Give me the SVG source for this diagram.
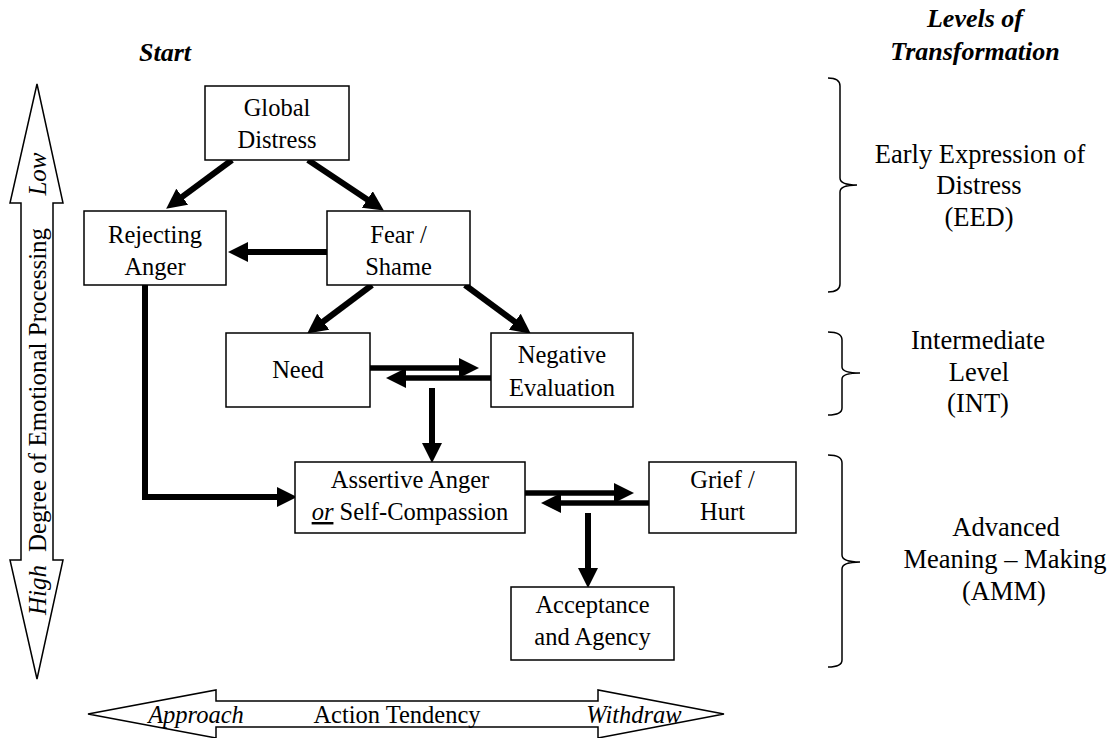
<svg xmlns="http://www.w3.org/2000/svg" width="1115" height="738" viewBox="0 0 1115 738">
<style>
text{font-family:"Liberation Serif","Times New Roman",serif;fill:#000}
.bx{font-size:24.5px;text-anchor:middle}
.lv{font-size:26.5px;text-anchor:middle}
.ttl{font-size:26px;font-weight:bold;font-style:italic;text-anchor:middle}
.ax{font-size:25px;text-anchor:middle}
.it{font-style:italic}
.node rect{fill:#fff;stroke:#000;stroke-width:1.5}
.conn{fill:none;stroke:#000;stroke-width:6;marker-end:url(#ah)}
.conn2{fill:none;stroke:#000;stroke-width:5.5;marker-end:url(#ah)}
.brace{fill:none;stroke:#000;stroke-width:1.5}
.bigarrow{fill:#fff;stroke:#000;stroke-width:1.5;stroke-linejoin:miter}
</style>
<defs>
<marker id="ah" markerUnits="userSpaceOnUse" markerWidth="20" markerHeight="20" viewBox="0 0 20 20" refX="9" refY="10" orient="auto">
<path d="M0,0 L20,10 L0,20 z" fill="#000"/>
</marker>
</defs>
<rect width="1115" height="738" fill="#fff"/>

<text class="ttl" x="165" y="61">Start</text>
<text class="ttl" x="975" y="27">Levels of</text>
<text class="ttl" x="975" y="60">Transformation</text>

<g id="axis-processing">
<polygon class="bigarrow" points="37,84 63,203 53,203 53,560 63,560 37,679 10,560 21,560 21,203 10,203"/>
<text class="ax it" transform="translate(46,174) rotate(-90)">Low</text>
<text class="ax" transform="translate(46,390) rotate(-90)">Degree of Emotional Processing</text>
<text class="ax it" transform="translate(46,590) rotate(-90)">High</text>
</g>

<g id="axis-action">
<polygon class="bigarrow" points="88,714 216,690 216,701 598,701 598,690 724,714 598,738 598,727 216,727 216,738"/>
<text class="bx it" x="196" y="723">Approach</text>
<text class="bx" x="397" y="723">Action Tendency</text>
<text class="bx it" x="634" y="723">Withdraw</text>
</g>

<g id="connectors">
<line class="conn" x1="232" y1="160" x2="175" y2="202.1"/>
<line class="conn" x1="308" y1="160" x2="374.7" y2="204.5"/>
<line class="conn" x1="327" y1="252" x2="239" y2="252"/>
<line class="conn" x1="372" y1="285" x2="316" y2="327"/>
<line class="conn" x1="465" y1="285" x2="522" y2="327.1"/>
<line class="conn2" x1="370" y1="368" x2="468" y2="368"/>
<line class="conn2" x1="491" y1="378" x2="397" y2="378"/>
<line class="conn" x1="432" y1="388" x2="432" y2="452"/>
<path class="conn" d="M145,285 V497 H286"/>
<line class="conn2" x1="525" y1="493" x2="623" y2="493"/>
<line class="conn2" x1="649" y1="503" x2="552" y2="503"/>
<line class="conn" x1="588" y1="513" x2="588" y2="577"/>
</g>

<g id="global-distress" class="node">
<rect x="205" y="86" width="144" height="74"/>
<text class="bx" x="277" y="116">Global</text>
<text class="bx" x="277" y="148">Distress</text>
</g>
<g id="rejecting-anger" class="node">
<rect x="84" y="211" width="142" height="74"/>
<text class="bx" x="155" y="243">Rejecting</text>
<text class="bx" x="155" y="275">Anger</text>
</g>
<g id="fear-shame" class="node">
<rect x="327" y="211" width="143" height="74"/>
<text class="bx" x="398.5" y="243">Fear /</text>
<text class="bx" x="398.5" y="275">Shame</text>
</g>
<g id="need" class="node">
<rect x="226" y="333" width="144" height="74"/>
<text class="bx" x="298" y="378">Need</text>
</g>
<g id="negative-evaluation" class="node">
<rect x="491" y="333" width="142" height="74"/>
<text class="bx" x="562" y="363">Negative</text>
<text class="bx" x="562" y="396">Evaluation</text>
</g>
<g id="assertive-anger" class="node">
<rect x="295" y="462" width="230" height="71"/>
<text class="bx" x="410" y="488">Assertive Anger</text>
<text class="bx" x="410" y="520"><tspan class="it" text-decoration="underline">or</tspan> Self-Compassion</text>
</g>
<g id="grief-hurt" class="node">
<rect x="649" y="462" width="147" height="71"/>
<text class="bx" x="722.5" y="488">Grief /</text>
<text class="bx" x="722.5" y="520">Hurt</text>
</g>
<g id="acceptance-agency" class="node">
<rect x="511" y="587" width="163" height="73"/>
<text class="bx" x="592.5" y="613">Acceptance</text>
<text class="bx" x="592.5" y="645">and Agency</text>
</g>

<g id="level-eed">
<path class="brace" d="M828,78 C836,78 840,80 840,86 V178 C840,183 846,185 857,185 C846,185 840,187 840,192 V284 C840,290 836,292 828,292"/>
<text class="lv" x="980" y="163">Early Expression of</text>
<text class="lv" x="979" y="194">Distress</text>
<text class="lv" x="979" y="226">(EED)</text>
</g>
<g id="level-int">
<path class="brace" d="M828,332 C837,332 842,334 842,340 V367 C842,371 848,373 860,373 C848,373 842,375 842,379 V408 C842,413 837,415 828,415"/>
<text class="lv" x="978" y="349">Intermediate</text>
<text class="lv" x="979" y="381">Level</text>
<text class="lv" x="978" y="412">(INT)</text>
</g>
<g id="level-amm">
<path class="brace" d="M828,455 C837,455 842,457 842,463 V555 C842,560 848,562 860,562 C848,562 842,564 842,569 V660 C842,665 837,667 828,667"/>
<text class="lv" x="1006" y="536">Advanced</text>
<text class="lv" x="1005" y="568">Meaning – Making</text>
<text class="lv" x="1004" y="600">(AMM)</text>
</g>
</svg>
